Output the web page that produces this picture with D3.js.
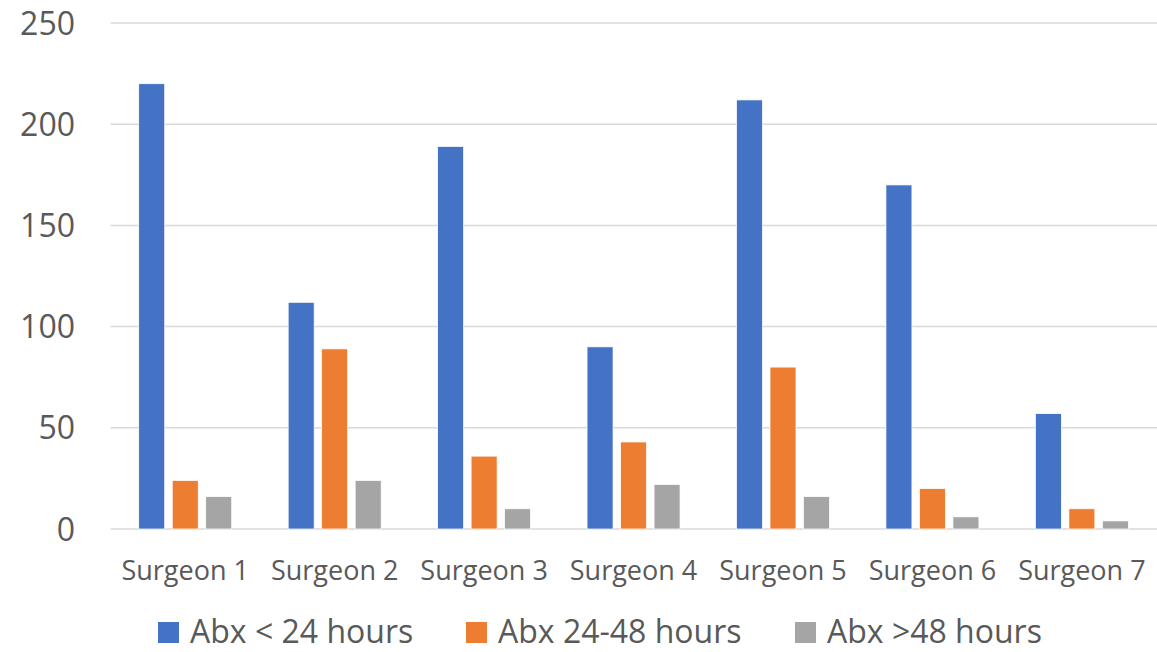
<!DOCTYPE html>
<html>
<head>
<meta charset="utf-8">
<script src="https://cdn.jsdelivr.net/npm/d3@7"></script>
<style>
	html, body { margin: 0; padding: 0; background: #fff; }
	svg { display: block; font-family: "Open Sans", sans-serif; }
</style>
</head>
<body>
<script>
// chart data
const surgeons = ["Surgeon 1", "Surgeon 2", "Surgeon 3", "Surgeon 4", "Surgeon 5", "Surgeon 6", "Surgeon 7"];
const seriesNames = ["Abx < 24 hours", "Abx 24-48 hours", "Abx >48 hours"];
const under24 = [220, 112, 189, 90, 212, 170, 57];
const from24to48 = [24, 89, 36, 43, 80, 20, 10];
const over48 = [16, 24, 10, 22, 16, 6, 4];
const yTicks = [0, 50, 100, 150, 200, 250];

const colors = ["#4472C4", "#ED7D31", "#A5A5A5"];
const seriesValues = [under24, from24to48, over48];

const width = 1157, height = 652;
const chart = d3.select("body").append("svg")
	.attr("width", width)
	.attr("height", height);

const x = d3.scaleBand().domain(surgeons).range([110.5, 1156.6]);
const xs = d3.scaleBand().domain(seriesNames)
	.range([-46.5, 46.5]).paddingInner(0.224);
const y = d3.scaleLinear().domain([0, 250]).range([529, 23]);

// gridlines
chart.append("g")
	.selectAll("line")
	.data(yTicks)
	.enter()
	.append("line")
	.attr("x1", 110.5)
	.attr("x2", width)
	.attr("y1", (d) => y(d))
	.attr("y2", (d) => y(d))
	.style("stroke", "#D9D9D9")
	.style("stroke-width", 1.5);

// y tick labels
chart.append("g")
	.selectAll("text")
	.data(yTicks)
	.enter()
	.append("text")
	.attr("x", 75)
	.attr("y", (d) => y(d))
	.attr("dy", "0.36em")
	.attr("text-anchor", "end")
	.style("font-size", "32px")
	.style("fill", "#595959")
	.text((d) => d);

// bars
const groups = chart.append("g")
	.selectAll("g")
	.data(seriesNames)
	.enter()
	.append("g")
	.style("fill", (d, i) => colors[i]);

groups.selectAll("rect")
	.data((d, i) => surgeons.map((s, j) => ({ s: s, name: d, v: seriesValues[i][j] })))
	.enter()
	.append("rect")
	.attr("x", (d) => x(d.s) + x.bandwidth() / 2 + xs(d.name))
	.attr("width", xs.bandwidth())
	.attr("y", (d) => y(d.v))
	.attr("height", (d) => y(0) - y(d.v))
	.style("stroke", "#fff")
	.style("stroke-width", 0.75);

// x labels
chart.append("g")
	.selectAll("text")
	.data(surgeons)
	.enter()
	.append("text")
	.attr("x", (d) => x(d) + x.bandwidth() / 2)
	.attr("y", 580)
	.attr("text-anchor", "middle")
	.style("font-size", "27px")
	.style("fill", "#595959")
	.text((d) => d);

// legend
const legendX = [158, 466, 795];
const legend = chart.append("g")
	.selectAll("g")
	.data(seriesNames)
	.enter()
	.append("g")
	.attr("transform", (d, i) => "translate(" + legendX[i] + ",622)");
legend.append("rect")
	.attr("width", 21)
	.attr("height", 21)
	.style("fill", (d, i) => colors[i]);
legend.append("text")
	.attr("x", 32)
	.attr("y", 21)
	.style("font-size", "32px")
	.style("fill", "#595959")
	.text((d) => d);
</script>
</body>
</html>
